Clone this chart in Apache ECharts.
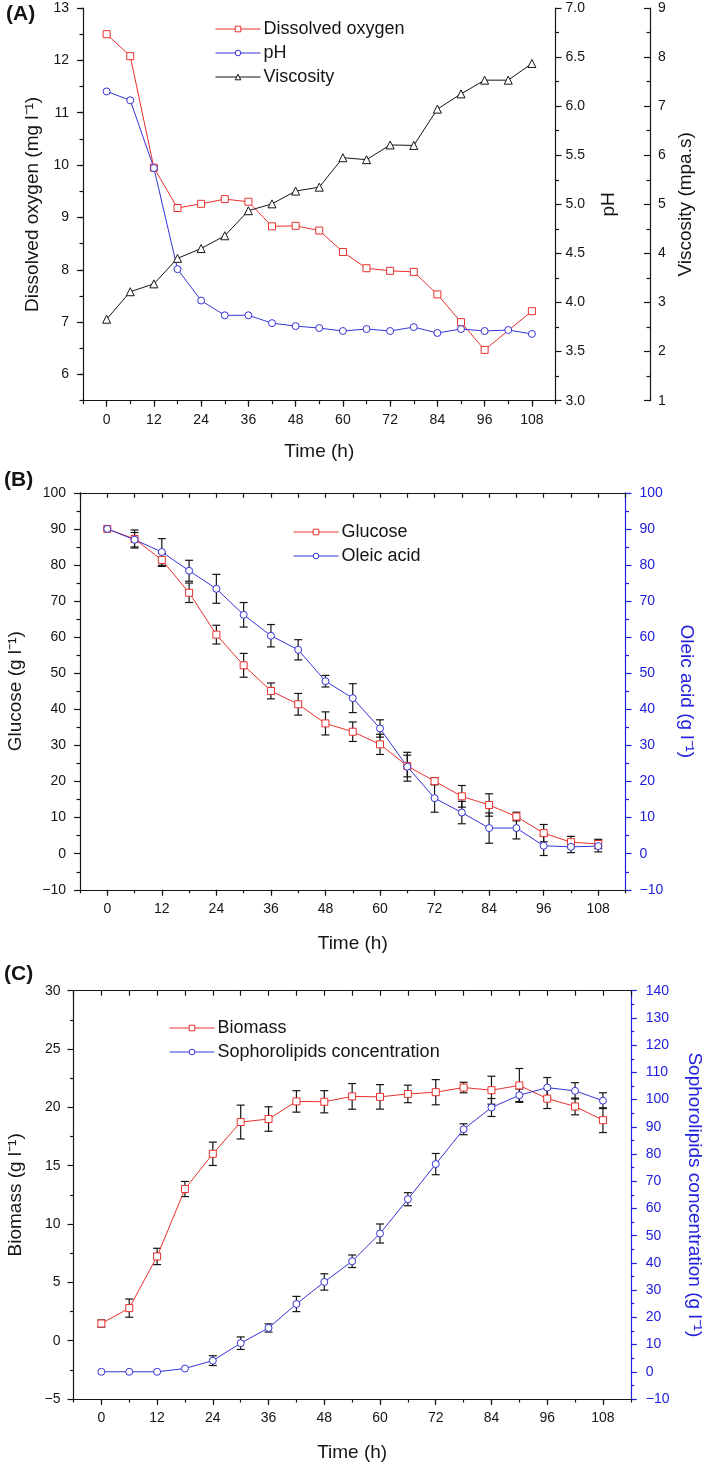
<!DOCTYPE html>
<html>
<head>
<meta charset="utf-8">
<script src="https://cdn.jsdelivr.net/npm/echarts@6/dist/echarts.min.js"></script>
<style>html,body{margin:0;padding:0;background:#fff;}#c{width:709px;height:1464px;}</style>
</head>
<body>
<div id="c"></div>
<script>
// ---------- data ----------
const time = [0, 6, 12, 18, 24, 30, 36, 42, 48, 54, 60, 66, 72, 78, 84, 90, 96, 102, 108];
const timeLabels = [0, 12, 24, 36, 48, 60, 72, 84, 96, 108];

// Panel A
const dissolvedOxygen = [12.5, 12.08, 9.95, 9.18, 9.26, 9.35, 9.30, 8.83, 8.84, 8.75, 8.34, 8.03, 7.98, 7.96, 7.53, 7.0, 6.47, null, 7.21];
const pH = [6.15, 6.06, 5.37, 4.34, 4.02, 3.87, 3.87, 3.79, 3.76, 3.74, 3.71, 3.73, 3.71, 3.75, 3.69, 3.73, 3.71, 3.72, 3.68];
const viscosity = [2.66, 3.22, 3.38, 3.90, 4.10, 4.36, 4.87, 5.01, 5.27, 5.35, 5.95, 5.91, 6.21, 6.20, 6.94, 7.25, 7.53, 7.53, 7.87];
const doTicks = [6, 7, 8, 9, 10, 11, 12, 13];

// Panel B
const glucose = [90, 87.2, 81.4, 72.3, 60.7, 52.2, 45.1, 41.4, 36.1, 33.8, 30.3, 24.3, 20.1, 15.9, 13.5, 10.3, 5.7, 3.2, 2.7];
const glucoseErr = [0, 2.5, 1.8, 2.7, 2.6, 3.3, 2.2, 3.0, 3.2, 2.7, 2.8, 3.0, 1.0, 3.0, 3.1, 1.2, 2.4, 1.6, 1.3];
const oleicAcid = [90, 87.0, 83.6, 78.4, 73.4, 66.2, 60.4, 56.5, 47.8, 43.1, 34.7, 24.1, 15.4, 11.4, 7.1, 7.1, 2.2, 1.9, 2.1];
const oleicErr = [0, 2.0, 3.7, 2.9, 4.0, 3.4, 3.1, 2.8, 1.6, 4.0, 2.4, 4.0, 3.9, 3.1, 4.2, 3.0, 2.7, 1.6, 1.6];

// Panel C
const biomass = [1.47, 2.79, 7.22, 13.0, 16.02, 18.74, 19.0, 20.51, 20.48, 20.94, 20.9, 21.15, 21.3, 21.7, 21.47, 21.88, 20.75, 20.08, 18.9];
const biomassErr = [0.3, 0.78, 0.7, 0.65, 1.0, 1.45, 1.05, 0.92, 0.95, 1.1, 1.05, 0.75, 1.08, 0.45, 1.2, 1.45, 0.85, 0.72, 1.06];
const sophorolipids = [0, 0, 0, 1.2, 4.1, 10.5, 16.1, 24.9, 33.0, 40.6, 50.8, 63.4, 76.3, 89.1, 97.1, 101.6, 104.4, 103.2, 99.6];
const sophorolipidsErr = [0, 0, 0, 0, 1.8, 2.3, 1.5, 2.8, 3.0, 2.3, 3.5, 2.4, 3.9, 2.0, 3.3, 2.3, 3.7, 3.0, 2.9];

// ---------- styling ----------
const FONT = "'Liberation Sans', Arial, sans-serif";
const INK = '#151515';
const RED = '#e8302e';
const BLUE = '#3434d6';
const AXBLUE = '#2020dd';
const minus = v => String(v).replace('-', '\u2212');

const chart = echarts.init(document.getElementById('c'), null, {renderer: 'canvas'});

function pairs(ys) { return time.map((x, i) => [x, ys[i]]); }
function errData(ys, es) { return time.map((x, i) => [x, ys[i], es[i]]); }

function mainX(grid, gap) {
  return {
    type: 'value', gridIndex: grid, position: 'bottom', min: -6, max: 114, interval: 6,
    axisLine: {onZero: false, lineStyle: {color: INK, width: 1.2}},
    axisTick: {length: 6, customValues: timeLabels, lineStyle: {color: INK, width: 1.2}},
    axisLabel: {customValues: timeLabels, margin: 12, fontSize: 14, color: INK, fontFamily: FONT},
    splitLine: {show: false},
    name: 'Time (h)', nameLocation: 'middle', nameGap: gap,
    nameTextStyle: {fontSize: 19, color: INK, fontFamily: FONT}
  };
}
function minorX(grid) {
  return {
    type: 'value', gridIndex: grid, position: 'bottom', min: -6, max: 114, interval: 6,
    axisLine: {show: false, onZero: false},
    axisTick: {length: 3.5, lineStyle: {color: INK, width: 1.2}},
    axisLabel: {show: false}, splitLine: {show: false}
  };
}
function topX(grid) {
  return {
    type: 'value', gridIndex: grid, position: 'top', min: -6, max: 114, interval: 6,
    axisLine: {onZero: false, lineStyle: {color: INK, width: 1.2}},
    axisTick: {inside: true, length: 5, lineStyle: {color: INK, width: 1.2}},
    axisLabel: {show: false}, splitLine: {show: false}
  };
}
function yAx(o) {
  const col = o.color || INK;
  return Object.assign({
    type: 'value', splitLine: {show: false},
    axisLine: {onZero: false, lineStyle: {color: col, width: 1.2}},
    axisTick: {length: 6, inside: !!o.tickInside, lineStyle: {color: col, width: 1.2}},
    minorTick: {show: true, splitNumber: 2, length: 3.5, lineStyle: {color: col, width: 1.2}},
    axisLabel: {margin: o.margin || 12, fontSize: 14, color: col, fontFamily: FONT, formatter: o.fmt || minus},
    nameLocation: 'middle',
    nameTextStyle: {fontSize: 19, color: col, fontFamily: FONT}
  }, o.extra);
}

function lineSeries(name, xi, yi, ys, color, symbol, size) {
  return {
    type: 'line', name, xAxisIndex: xi, yAxisIndex: yi, data: pairs(ys),
    connectNulls: true, symbol, symbolSize: size, showSymbol: true,
    lineStyle: {color, width: 1}, itemStyle: {color: '#fff', borderColor: color, borderWidth: 1},
    z: 3, animation: false
  };
}
function errSeries(xi, yi, ys, es) {
  return {
    type: 'custom', xAxisIndex: xi, yAxisIndex: yi, data: errData(ys, es), z: 2,
    encode: {x: 0, y: 1}, animation: false, silent: true, clip: false,
    renderItem: function (params, api) {
      const x = api.value(0), y = api.value(1), e = api.value(2);
      if (!e) return null;
      const top = api.coord([x, y + e]);
      const bot = api.coord([x, y - e]);
      const w = 4;
      const st = {stroke: INK, lineWidth: 1.2};
      return {type: 'group', children: [
        {type: 'line', shape: {x1: top[0], y1: top[1], x2: bot[0], y2: bot[1]}, style: st},
        {type: 'line', shape: {x1: top[0] - w, y1: top[1], x2: top[0] + w, y2: top[1]}, style: st},
        {type: 'line', shape: {x1: bot[0] - w, y1: bot[1], x2: bot[0] + w, y2: bot[1]}, style: st}
      ]};
    }
  };
}
function legend(names, left, top) {
  return {
    data: names, orient: 'vertical', left, top, itemWidth: 45, itemHeight: 7, itemGap: 6,
    textStyle: {fontSize: 18, lineHeight: 18, color: INK, fontFamily: FONT, padding: [0, 0, 0, -2]},
    lineStyle: {width: 1},
    itemStyle: {borderWidth: 1},
    selectedMode: false
  };
}

const option = {
  backgroundColor: '#fff',
  animation: false,
  grid: [
    {left: 83, top: 8, width: 472.5, height: 392.7, containLabel: false, outerBoundsMode: 'none'},
    {left: 80, top: 492.8, width: 545.5, height: 397, containLabel: false, outerBoundsMode: 'none'},
    {left: 73.5, top: 990.7, width: 557.3, height: 408.3, containLabel: false, outerBoundsMode: 'none'}
  ],
  xAxis: [
    mainX(0, 42), minorX(0),
    mainX(1, 44), minorX(1), topX(1),
    mainX(2, 44), minorX(2), topX(2)
  ],
  yAxis: [
    // 0: DO main
    yAx({extra: {gridIndex: 0, position: 'left', min: 5.5, max: 13, interval: 0.5,
      axisTick: {length: 6, customValues: doTicks, lineStyle: {color: INK, width: 1.2}},
      minorTick: {show: false},
      axisLabel: {customValues: doTicks, margin: 14, fontSize: 14, color: INK, fontFamily: FONT},
      name: 'Dissolved oxygen (mg l\u207B\u00B9)', nameGap: 40, nameRotate: 90}}),
    // 1: DO minor ticks
    {type: 'value', gridIndex: 0, position: 'left', min: 5.5, max: 13, interval: 0.5,
      axisLine: {show: false, onZero: false}, axisTick: {length: 3.5, lineStyle: {color: INK, width: 1.2}},
      axisLabel: {show: false}, splitLine: {show: false}},
    // 2: pH
    yAx({margin: 10, fmt: v => v.toFixed(1), extra: {gridIndex: 0, position: 'right', min: 3, max: 7, interval: 0.5,
      name: 'pH', nameGap: 44, nameRotate: 90}}),
    // 3: viscosity
    yAx({margin: 8, tickInside: true, extra: {gridIndex: 0, position: 'right', offset: 94.5, min: 1, max: 9, interval: 1,
      name: 'Viscosity (mpa.s)', nameGap: 26, nameRotate: 90}}),
    // 4: glucose
    yAx({margin: 14, extra: {gridIndex: 1, position: 'left', min: -10, max: 100, interval: 10,
      name: 'Glucose (g l\u207B\u00B9)', nameGap: 55, nameRotate: 90}}),
    // 5: oleic acid
    yAx({margin: 14, color: AXBLUE, extra: {gridIndex: 1, position: 'right', min: -10, max: 100, interval: 10,
      name: 'Oleic acid (g l\u207B\u00B9)', nameGap: 51, nameRotate: -90}}),
    // 6: biomass
    yAx({margin: 13, extra: {gridIndex: 2, position: 'left', min: -5, max: 30, interval: 5,
      name: 'Biomass (g l\u207B\u00B9)', nameGap: 48, nameRotate: 90}}),
    // 7: sophorolipids
    yAx({margin: 15, color: AXBLUE, extra: {gridIndex: 2, position: 'right', min: -10, max: 140, interval: 10,
      name: 'Sophorolipids concentration (g l\u207B\u00B9)', nameGap: 54, nameRotate: -90}})
  ],
  legend: [
    legend(['Dissolved oxygen', 'pH', 'Viscosity'], 210, 15),
    legend(['Glucose', 'Oleic acid'], 288, 518),
    legend(['Biomass', 'Sophorolipids concentration'], 164, 1014)
  ],
  graphic: [
    {type: 'text', left: 6, top: 4, style: {text: '(A)', fontSize: 21, fontWeight: 'bold', fill: INK, fontFamily: FONT}},
    {type: 'text', left: 4, top: 470, style: {text: '(B)', fontSize: 21, fontWeight: 'bold', fill: INK, fontFamily: FONT}},
    {type: 'text', left: 4, top: 964, style: {text: '(C)', fontSize: 21, fontWeight: 'bold', fill: INK, fontFamily: FONT}}
  ],
  series: [
    lineSeries('Dissolved oxygen', 0, 0, dissolvedOxygen, RED, 'rect', 7),
    lineSeries('pH', 0, 2, pH, BLUE, 'circle', 7),
    lineSeries('Viscosity', 0, 3, viscosity, INK, 'triangle', 8),

    errSeries(2, 4, glucose, glucoseErr),
    errSeries(2, 5, oleicAcid, oleicErr),
    lineSeries('Glucose', 2, 4, glucose, RED, 'rect', 7),
    lineSeries('Oleic acid', 2, 5, oleicAcid, BLUE, 'circle', 7),

    errSeries(5, 6, biomass, biomassErr),
    errSeries(5, 7, sophorolipids, sophorolipidsErr),
    lineSeries('Biomass', 5, 6, biomass, RED, 'rect', 7),
    lineSeries('Sophorolipids concentration', 5, 7, sophorolipids, BLUE, 'circle', 7)
  ]
};
chart.setOption(option);
</script>
</body>
</html>
